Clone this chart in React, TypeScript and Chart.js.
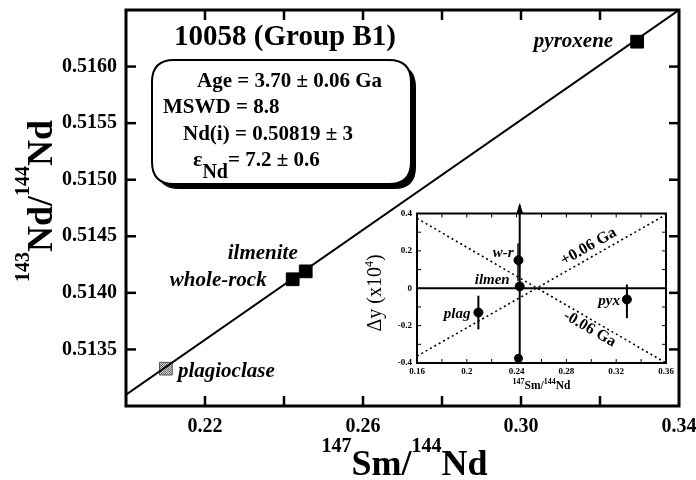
import React, { useEffect, useRef } from 'react';
import { Chart, registerables } from 'chart.js';

Chart.register(...registerables);

const FONT = "'Liberation Serif', 'Times New Roman', serif";

// ---- Main isochron data ----
const mineralNames = ['plagioclase', 'whole-rock', 'ilmenite', 'pyroxene'];
const smNd = [0.2101, 0.2422, 0.2455, 0.3294];
const ndNd = [0.51333, 0.51412, 0.51419, 0.51622];
const isochronX = [0.2, 0.34];
const isochronY = [0.5131, 0.5165];
const xTickValues = [0.2, 0.22, 0.24, 0.26, 0.28, 0.3, 0.32, 0.34];
const xTickLabels = ['', '0.22', '', '0.26', '', '0.30', '', '0.34'];
const yTickValues = [0.513, 0.5135, 0.514, 0.5145, 0.515, 0.5155, 0.516, 0.5165];
const yTickLabels = ['', '0.5135', '0.5140', '0.5145', '0.5150', '0.5155', '0.5160', ''];

// ---- Inset residual data ----
const residNames = ['plag', 'w-r', 'ilmen', 'pyx'];
const residX = [0.2093, 0.2415, 0.2425, 0.3286];
const residY = [-0.13, 0.15, 0.01, -0.06];
const residErrUp = [0.09, 0.09, 0.435, 0.08];
const residErrDown = [0.09, 0.11, 0.385, 0.1];
const residEndX = [0.2415];
const residEndY = [-0.375];
const plusGaX = [0.16, 0.36];
const plusGaY = [-0.363, 0.394];
const minusGaX = [0.16, 0.36];
const minusGaY = [0.374, -0.4];
const zeroX = [0.16, 0.36];
const zeroY = [0, 0];
const insetXTicks = [0.16, 0.18, 0.2, 0.22, 0.24, 0.26, 0.28, 0.3, 0.32, 0.34, 0.36];
const insetXLabels = ['0.16', '', '0.2', '', '0.24', '', '0.28', '', '0.32', '', '0.36'];
const insetYTicks = [-0.4, -0.3, -0.2, -0.1, 0, 0.1, 0.2, 0.3, 0.4];
const insetYLabels = ['-0.4', '', '-0.2', '', '0', '', '0.2', '', '0.4'];

type Part = { t: string; size: number; dy: number; weight?: string; style?: string };

function partFont(p: Part) {
  return `${p.style || 'normal'} ${p.weight || 'bold'} ${p.size}px ${FONT}`;
}

function drawRich(ctx: CanvasRenderingContext2D, parts: Part[], x: number, y: number, align: string) {
  let w = 0;
  for (const p of parts) {
    ctx.font = partFont(p);
    w += ctx.measureText(p.t).width;
  }
  let cx = align === 'left' ? x : align === 'center' ? x - w / 2 : x - w;
  ctx.textAlign = 'left';
  ctx.textBaseline = 'alphabetic';
  for (const p of parts) {
    ctx.font = partFont(p);
    ctx.fillText(p.t, cx, y + p.dy);
    cx += ctx.measureText(p.t).width;
  }
}

function line(ctx: CanvasRenderingContext2D, x1: number, y1: number, x2: number, y2: number) {
  ctx.beginPath();
  ctx.moveTo(x1, y1);
  ctx.lineTo(x2, y2);
  ctx.stroke();
}

function roundRectPath(ctx: CanvasRenderingContext2D, x: number, y: number, w: number, h: number, r: number) {
  ctx.beginPath();
  ctx.moveTo(x + r, y);
  ctx.lineTo(x + w - r, y);
  ctx.quadraticCurveTo(x + w, y, x + w, y + r);
  ctx.lineTo(x + w, y + h - r);
  ctx.quadraticCurveTo(x + w, y + h, x + w - r, y + h);
  ctx.lineTo(x + r, y + h);
  ctx.quadraticCurveTo(x, y + h, x, y + h - r);
  ctx.lineTo(x, y + r);
  ctx.quadraticCurveTo(x, y, x + r, y);
  ctx.closePath();
}

function makePattern(): CanvasPattern | string {
  const c = document.createElement('canvas');
  c.width = 2;
  c.height = 2;
  const g = c.getContext('2d');
  if (!g) return '#aaa';
  g.fillStyle = '#d8d8d8';
  g.fillRect(0, 0, 2, 2);
  g.fillStyle = '#6a6a6a';
  g.fillRect(0, 0, 1, 1);
  g.fillRect(1, 1, 1, 1);
  const p = g.createPattern(c, 'repeat');
  return p || '#aaa';
}

const mainPlugin = {
  id: 'mainDecor',
  afterDraw(chart: any) {
    const { ctx, chartArea: a, scales } = chart;
    const x = scales.x;
    const y = scales.y;
    ctx.save();
    ctx.strokeStyle = '#000';
    ctx.fillStyle = '#000';
    ctx.lineWidth = 3;
    ctx.strokeRect(a.left, a.top, a.right - a.left, a.bottom - a.top);
    ctx.lineWidth = 2.5;
    xTickValues.forEach((v) => {
      const px = x.getPixelForValue(v);
      if (px <= a.left + 3 || px >= a.right - 3) return;
      line(ctx, px, a.bottom, px, a.bottom - 10);
      line(ctx, px, a.top, px, a.top + 10);
    });
    yTickValues.forEach((v) => {
      const py = y.getPixelForValue(v);
      if (py <= a.top + 3 || py >= a.bottom - 3) return;
      line(ctx, a.left, py, a.left + 10, py);
      line(ctx, a.right, py, a.right - 10, py);
    });

    // axis titles
    const cxMid = (a.left + a.right) / 2;
    drawRich(ctx, [
      { t: '147', size: 20, dy: -23 },
      { t: 'Sm/', size: 36, dy: 0 },
      { t: '144', size: 20, dy: -23 },
      { t: 'Nd', size: 36, dy: 0 },
    ], cxMid + 2, 475, 'center');
    ctx.save();
    ctx.translate(52, 201);
    ctx.rotate(-Math.PI / 2);
    drawRich(ctx, [
      { t: '143', size: 20, dy: -23 },
      { t: 'Nd/', size: 36, dy: 0 },
      { t: '144', size: 20, dy: -23 },
      { t: 'Nd', size: 36, dy: 0 },
    ], 0, 0, 'center');
    ctx.restore();

    // mineral labels
    const offs: Record<string, [number, number, string]> = {
      plagioclase: [12, 3, 'left'],
      'whole-rock': [-26, 1, 'right'],
      ilmenite: [-8, -18, 'right'],
      pyroxene: [-24, 0, 'right'],
    };
    ctx.font = `italic bold 21px ${FONT}`;
    ctx.textBaseline = 'middle';
    mineralNames.forEach((n, i) => {
      const px = x.getPixelForValue(smNd[i]);
      const py = y.getPixelForValue(ndNd[i]);
      const o = offs[n];
      ctx.textAlign = o[2] as CanvasTextAlign;
      ctx.fillText(n, px + o[0], py + o[1]);
    });

    // title
    ctx.font = `bold 29px ${FONT}`;
    ctx.textAlign = 'center';
    ctx.textBaseline = 'alphabetic';
    ctx.fillText('10058 (Group B1)', 285, 45);

    // result box with shadow
    roundRectPath(ctx, 157, 65, 259, 124, 22);
    ctx.fillStyle = '#000';
    ctx.fill();
    roundRectPath(ctx, 152, 60, 259, 124, 22);
    ctx.fillStyle = '#fff';
    ctx.fill();
    ctx.lineWidth = 2;
    ctx.strokeStyle = '#000';
    ctx.stroke();
    ctx.fillStyle = '#000';
    ctx.font = `bold 21px ${FONT}`;
    ctx.textAlign = 'left';
    ctx.fillText('Age = 3.70 \u00B1 0.06 Ga', 197, 87);
    ctx.fillText('MSWD = 8.8', 163, 113);
    ctx.fillText('Nd(i) = 0.50819 \u00B1 3', 183, 140);
    drawRich(ctx, [
      { t: '\u03B5', size: 22, dy: 0 },
      { t: 'Nd', size: 20, dy: 12 },
      { t: '= 7.2 \u00B1 0.6', size: 21, dy: 0 },
    ], 193, 166, 'left');
    ctx.restore();
  },
};

const insetPlugin = {
  id: 'insetDecor',
  beforeDraw(chart: any) {
    const { ctx, chartArea: a } = chart;
    ctx.save();
    ctx.fillStyle = '#fff';
    ctx.fillRect(a.left, a.top - 12, a.right - a.left, a.bottom - a.top + 12);
    ctx.restore();
  },
  beforeDatasetsDraw(chart: any) {
    const { ctx, scales } = chart;
    const x = scales.x;
    const y = scales.y;
    ctx.save();
    residX.forEach((vx, i) => {
      const px = x.getPixelForValue(vx);
      const top = y.getPixelForValue(residY[i] + residErrUp[i]);
      const bot = y.getPixelForValue(residY[i] - residErrDown[i]);
      ctx.strokeStyle = residNames[i] === 'w-r' ? '#444' : '#000';
      ctx.lineWidth = residNames[i] === 'w-r' ? 3 : 2;
      line(ctx, px, top, px, bot);
      if (residNames[i] === 'ilmen') {
        ctx.fillStyle = '#000';
        ctx.beginPath();
        ctx.moveTo(px, top - 2);
        ctx.lineTo(px - 3.5, top + 9);
        ctx.lineTo(px + 3.5, top + 9);
        ctx.closePath();
        ctx.fill();
      }
    });
    ctx.restore();
  },
  afterDraw(chart: any) {
    const { ctx, chartArea: a, scales } = chart;
    const x = scales.x;
    const y = scales.y;
    ctx.save();
    ctx.strokeStyle = '#000';
    ctx.fillStyle = '#000';
    ctx.lineWidth = 2;
    ctx.strokeRect(a.left, a.top, a.right - a.left, a.bottom - a.top);
    ctx.lineWidth = 1;
    insetXTicks.forEach((v) => {
      const px = x.getPixelForValue(v);
      if (px <= a.left + 2 || px >= a.right - 2) return;
      line(ctx, px, a.bottom, px, a.bottom - 4);
      line(ctx, px, a.top, px, a.top + 4);
    });
    insetYTicks.forEach((v) => {
      const py = y.getPixelForValue(v);
      if (py <= a.top + 2 || py >= a.bottom - 2) return;
      line(ctx, a.left, py, a.left + 4, py);
      line(ctx, a.right, py, a.right - 4, py);
    });

    // point labels
    const offs: Record<string, [number, number]> = {
      plag: [-8, 2],
      'w-r': [-5, -7],
      ilmen: [-10, -6],
      pyx: [-7, 2],
    };
    ctx.font = `italic bold 15px ${FONT}`;
    ctx.textAlign = 'right';
    ctx.textBaseline = 'middle';
    residNames.forEach((n, i) => {
      const px = x.getPixelForValue(residX[i]);
      const py = y.getPixelForValue(residY[i]);
      ctx.fillText(n, px + offs[n][0], py + offs[n][1]);
    });

    // age labels along dotted lines
    const lx = 0.2963;
    const tPlus = (lx - plusGaX[0]) / (plusGaX[1] - plusGaX[0]);
    const yPlus = plusGaY[0] + tPlus * (plusGaY[1] - plusGaY[0]);
    const tMinus = (lx - minusGaX[0]) / (minusGaX[1] - minusGaX[0]);
    const yMinus = minusGaY[0] + tMinus * (minusGaY[1] - minusGaY[0]);
    ctx.font = `bold 16px ${FONT}`;
    ctx.textAlign = 'center';
    ctx.save();
    ctx.translate(x.getPixelForValue(lx) + 2, y.getPixelForValue(yPlus) - 13);
    ctx.rotate(-0.52);
    ctx.fillText('+0.06 Ga', 0, 0);
    ctx.restore();
    ctx.save();
    ctx.translate(x.getPixelForValue(lx) + 3, y.getPixelForValue(yMinus) + 12);
    ctx.rotate(0.52);
    ctx.fillText('-0.06 Ga', 0, 0);
    ctx.restore();

    // axis titles
    drawRich(ctx, [
      { t: '147', size: 8, dy: -5 },
      { t: 'Sm/', size: 11.5, dy: 0 },
      { t: '144', size: 8, dy: -5 },
      { t: 'Nd', size: 11.5, dy: 0 },
    ], (a.left + a.right) / 2, 199, 'center');
    ctx.save();
    ctx.translate(21, 103);
    ctx.rotate(-Math.PI / 2);
    drawRich(ctx, [
      { t: '\u0394y (x10', size: 20, dy: 0, weight: 'normal' },
      { t: '4', size: 12, dy: -8, weight: 'normal' },
      { t: ')', size: 20, dy: 0, weight: 'normal' },
    ], 0, 0, 'center');
    ctx.restore();
    ctx.restore();
  },
};

export default function App() {
  const mainRef = useRef<HTMLCanvasElement>(null);
  const insetRef = useRef<HTMLCanvasElement>(null);

  useEffect(() => {
    const pattern = makePattern();
    const tickFont = { family: FONT, size: 20, weight: 'bold' as const };
    const main = new Chart(mainRef.current as HTMLCanvasElement, {
      type: 'scatter',
      data: {
        datasets: [
          {
            type: 'line',
            data: isochronX.map((v, i) => ({ x: v, y: isochronY[i] })),
            borderColor: '#000',
            borderWidth: 2,
            pointRadius: 0,
            fill: false,
          } as any,
          {
            data: smNd.map((v, i) => ({ x: v, y: ndNd[i] })),
            pointStyle: 'rect',
            pointRadius: 9,
            backgroundColor: mineralNames.map((n) => (n === 'plagioclase' ? pattern : '#000')),
            borderColor: mineralNames.map((n) => (n === 'plagioclase' ? '#555' : '#000')),
            borderWidth: 1,
          } as any,
        ],
      },
      options: {
        animation: false,
        responsive: false,
        devicePixelRatio: 1,
        layout: { padding: { top: 9, right: 17, bottom: 0, left: 0 } },
        plugins: { legend: { display: false }, tooltip: { enabled: false } },
        scales: {
          x: {
            type: 'linear',
            min: 0.2,
            max: 0.34,
            afterBuildTicks: (s: any) => {
              s.ticks = xTickValues.map((v) => ({ value: v }));
            },
            afterFit: (s: any) => {
              s.height = 74;
              s.paddingLeft = 0;
              s.paddingRight = 0;
            },
            ticks: {
              autoSkip: false,
              maxRotation: 0,
              padding: 9,
              color: '#000',
              font: tickFont,
              callback: (_v: any, i: number) => xTickLabels[i],
            },
            grid: { display: false, drawTicks: false },
            border: { display: false },
          },
          y: {
            type: 'linear',
            min: 0.513,
            max: 0.5165,
            afterBuildTicks: (s: any) => {
              s.ticks = yTickValues.map((v) => ({ value: v }));
            },
            afterFit: (s: any) => {
              s.width = 126;
              s.paddingTop = 0;
              s.paddingBottom = 0;
            },
            ticks: {
              autoSkip: false,
              padding: 9,
              color: '#000',
              font: tickFont,
              callback: (_v: any, i: number) => yTickLabels[i],
            },
            grid: { display: false, drawTicks: false },
            border: { display: false },
          },
        },
      } as any,
      plugins: [mainPlugin],
    });

    const insetFont = { family: FONT, size: 9, weight: 'bold' as const };
    const inset = new Chart(insetRef.current as HTMLCanvasElement, {
      type: 'scatter',
      data: {
        datasets: [
          {
            type: 'line',
            data: zeroX.map((v, i) => ({ x: v, y: zeroY[i] })),
            borderColor: '#000',
            borderWidth: 2,
            pointRadius: 0,
          } as any,
          {
            type: 'line',
            data: plusGaX.map((v, i) => ({ x: v, y: plusGaY[i] })),
            borderColor: '#000',
            borderWidth: 1.6,
            borderDash: [2, 3],
            pointRadius: 0,
          } as any,
          {
            type: 'line',
            data: minusGaX.map((v, i) => ({ x: v, y: minusGaY[i] })),
            borderColor: '#000',
            borderWidth: 1.6,
            borderDash: [2, 3],
            pointRadius: 0,
          } as any,
          {
            data: residX.map((v, i) => ({ x: v, y: residY[i] })),
            pointRadius: 4.5,
            backgroundColor: '#000',
            borderColor: '#000',
          } as any,
          {
            data: residEndX.map((v, i) => ({ x: v, y: residEndY[i] })),
            pointRadius: 4,
            backgroundColor: '#000',
            borderColor: '#000',
          } as any,
        ],
      },
      options: {
        animation: false,
        responsive: false,
        devicePixelRatio: 1,
        layout: { padding: { top: 23.5, right: 14, bottom: 0, left: 0 } },
        plugins: { legend: { display: false }, tooltip: { enabled: false } },
        scales: {
          x: {
            type: 'linear',
            min: 0.16,
            max: 0.36,
            afterBuildTicks: (s: any) => {
              s.ticks = insetXTicks.map((v) => ({ value: v }));
            },
            afterFit: (s: any) => {
              s.height = 37;
              s.paddingLeft = 0;
              s.paddingRight = 0;
            },
            ticks: {
              autoSkip: false,
              maxRotation: 0,
              padding: 3,
              color: '#000',
              font: insetFont,
              callback: (_v: any, i: number) => insetXLabels[i],
            },
            grid: { display: false, drawTicks: false },
            border: { display: false },
          },
          y: {
            type: 'linear',
            min: -0.4,
            max: 0.4,
            afterBuildTicks: (s: any) => {
              s.ticks = insetYTicks.map((v) => ({ value: v }));
            },
            afterFit: (s: any) => {
              s.width = 57;
              s.paddingTop = 0;
              s.paddingBottom = 0;
            },
            ticks: {
              autoSkip: false,
              padding: 5,
              color: '#000',
              font: insetFont,
              callback: (_v: any, i: number) => insetYLabels[i],
            },
            grid: { display: false, drawTicks: false },
            border: { display: false },
          },
        },
      } as any,
      plugins: [insetPlugin],
    });

    return () => {
      main.destroy();
      inset.destroy();
    };
  }, []);

  return (
    <div style={{ position: 'absolute', left: 0, top: 0, width: 696, height: 480, background: '#fff' }}>
      <canvas
        ref={mainRef}
        width={696}
        height={480}
        style={{ position: 'absolute', left: 0, top: 0, width: 696, height: 480 }}
      />
      <canvas
        ref={insetRef}
        width={320}
        height={210}
        style={{ position: 'absolute', left: 360, top: 190, width: 320, height: 210 }}
      />
    </div>
  );
}
